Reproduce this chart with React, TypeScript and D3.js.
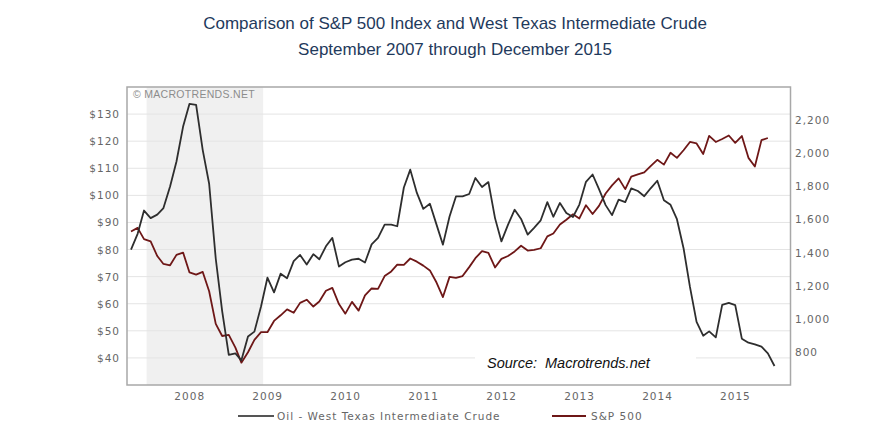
import React from 'react';
import * as d3 from 'd3';

const W = 872;
const H = 438;

const TITLE_LINES = [
  'Comparison of S&P 500 Index and West Texas Intermediate Crude',
  'September 2007 through December 2015',
];
const WATERMARK = '\u00A9 MACROTRENDS.NET';
const SOURCE = 'Source:  Macrotrends.net';
const OIL_LABEL = 'Oil - West Texas Intermediate Crude';
const SP_LABEL = 'S&P 500';

// Monthly observations, first one = September 2007
const START_YEAR = 2007;
const START_MONTH = 8; // September (0-based)

// WTI crude, USD per barrel (Sep 2007 .. Dec 2015)
const oilValues = [
  80.0, 85.8, 94.4, 91.6,
  92.9, 95.3, 103.3, 112.5, 125.4, 133.8, 133.4, 116.7, 104.3, 76.6, 57.3, 41.1,
  41.7, 39.1, 47.9, 49.7, 59.0, 69.6, 64.2, 71.1, 69.4, 75.7, 78.0, 74.5,
  78.3, 76.4, 81.2, 84.3, 73.7, 75.3, 76.3, 76.6, 75.2, 81.9, 84.3, 89.2,
  89.2, 88.6, 102.9, 109.5, 100.9, 95.0, 96.9, 89.2, 81.8, 92.2, 99.6, 99.6,
  100.5, 106.4, 103.1, 104.9, 91.6, 83.0, 89.2, 94.7, 91.3, 85.5, 88.0, 90.8,
  97.5, 92.1, 97.2, 93.5, 92.0, 96.6, 105.0, 107.7, 102.3, 96.4, 92.7, 98.4,
  97.5, 102.6, 101.6, 99.7, 102.7, 105.4, 98.2, 96.5, 91.2, 80.5, 66.2, 53.3,
  48.2, 49.8, 47.6, 59.6, 60.3, 59.5, 47.1, 45.6, 45.0, 44.2, 41.7, 37.0,
];

// S&P 500 monthly close (Sep 2007 .. Nov 2015)
const spValues = [
  1527, 1549, 1481, 1468,
  1379, 1331, 1323, 1386, 1400, 1280, 1267, 1283, 1166, 969, 896, 903,
  826, 735, 798, 873, 919, 919, 987, 1021, 1057, 1036, 1096, 1115,
  1074, 1104, 1169, 1187, 1089, 1031, 1102, 1049, 1141, 1183, 1181, 1258,
  1286, 1327, 1326, 1364, 1345, 1321, 1292, 1219, 1131, 1253, 1247, 1258,
  1312, 1366, 1408, 1398, 1310, 1362, 1379, 1407, 1441, 1412, 1416, 1426,
  1498, 1515, 1569, 1598, 1631, 1606, 1686, 1633, 1682, 1757, 1806, 1848,
  1783, 1859, 1872, 1884, 1924, 1960, 1931, 2003, 1972, 2018, 2068, 2059,
  1995, 2105, 2068, 2086, 2107, 2063, 2104, 1972, 1920, 2079, 2092,
];

const leftTicks = [40, 50, 60, 70, 80, 90, 100, 110, 120, 130];
const rightTicks = [800, 1000, 1200, 1400, 1600, 1800, 2000, 2200];
const yearLabels = [2008, 2009, 2010, 2011, 2012, 2013, 2014, 2015];
const recession = [new Date(2007, 11, 12), new Date(2009, 5, 10)];

const monthEnd = (i: number) => new Date(START_YEAR, START_MONTH + i + 1, 0);

export default function App() {
  const plot = { left: 127, right: 790.5, top: 87, bottom: 385 };

  const x = d3
    .scaleTime()
    .domain([monthEnd(0), monthEnd(oilValues.length - 1)])
    .range([131, 774.5]);
  const yL = d3.scaleLinear().domain([30, 140]).range([plot.bottom, plot.top]);
  const yR = d3.scaleLinear().domain([600, 2400]).range([plot.bottom, plot.top]);

  const oilLine = d3
    .line<number>()
    .x((_, i) => x(monthEnd(i)))
    .y((d) => yL(d));
  const spLine = d3
    .line<number>()
    .x((_, i) => x(monthEnd(i)))
    .y((d) => yR(d));

  const fmtR = d3.format(',');
  const axisFont = {
    fontFamily: 'DejaVu Sans, Verdana, sans-serif',
    fontSize: 10.5,
    letterSpacing: 1,
    fill: '#666',
  } as const;

  const oilColor = '#2e2e2e';
  const spColor = '#6e1717';

  return (
    <div style={{ position: 'absolute', left: 0, top: 0 }}>
      <svg width={W} height={H} viewBox={`0 0 ${W} ${H}`} style={{ display: 'block', background: '#fff' }}>
        <rect x={0} y={0} width={W} height={H} fill="#fff" />

        {TITLE_LINES.map((t, i) => (
          <text
            key={i}
            x={455}
            y={29 + i * 25.5}
            textAnchor="middle"
            fontFamily="Liberation Sans, Arial, sans-serif"
            fontSize={17}
            fill="#1f3a5c"
          >
            {t}
          </text>
        ))}

        {/* recession shading */}
        <rect
          x={x(recession[0])}
          y={plot.top}
          width={x(recession[1]) - x(recession[0])}
          height={plot.bottom - plot.top}
          fill="#f0f0f0"
        />

        {/* grid */}
        {leftTicks.map((t) => (
          <line
            key={t}
            x1={plot.left}
            x2={plot.right}
            y1={yL(t)}
            y2={yL(t)}
            stroke="#e4e4e4"
            strokeWidth={1}
          />
        ))}

        {/* source box */}
        <rect x={475} y={346} width={221} height={32} fill="#fff" />
        <text
          x={487}
          y={368}
          fontFamily="Liberation Sans, Arial, sans-serif"
          fontStyle="italic"
          fontSize={14.5}
          fill="#111"
          style={{ whiteSpace: 'pre' }}
        >
          {SOURCE}
        </text>

        {/* series */}
        <path d={spLine(spValues) || ''} fill="none" stroke={spColor} strokeWidth={1.8} strokeLinejoin="round" />
        <path d={oilLine(oilValues) || ''} fill="none" stroke={oilColor} strokeWidth={1.8} strokeLinejoin="round" />

        {/* frame */}
        <rect
          x={plot.left}
          y={plot.top}
          width={plot.right - plot.left}
          height={plot.bottom - plot.top}
          fill="none"
          stroke="#a8a8a8"
          strokeWidth={1.5}
        />

        <text
          x={133}
          y={94}
          dominantBaseline="central"
          fontFamily="Liberation Sans, Arial, sans-serif"
          fontSize={10.5}
          letterSpacing={0.3}
          fill="#8c8c8c"
        >
          {WATERMARK}
        </text>

        {/* left axis labels */}
        {leftTicks.map((t) => (
          <text key={t} x={120} y={yL(t)} textAnchor="end" dominantBaseline="central" {...axisFont}>
            {`$${t}`}
          </text>
        ))}

        {/* right axis labels */}
        {rightTicks.map((t) => (
          <text key={t} x={795} y={yR(t)} textAnchor="start" dominantBaseline="central" {...axisFont}>
            {fmtR(t)}
          </text>
        ))}

        {/* x labels */}
        {yearLabels.map((yr) => (
          <text key={yr} x={x(new Date(yr, 6, 1))} y={396} textAnchor="middle" dominantBaseline="central" {...axisFont}>
            {yr}
          </text>
        ))}

        {/* legend */}
        <line x1={238} x2={274} y1={416} y2={416} stroke="#555" strokeWidth={2} />
        <text x={277} y={416} dominantBaseline="central" {...axisFont}>
          {OIL_LABEL}
        </text>
        <line x1={552} x2={586} y1={416} y2={416} stroke={spColor} strokeWidth={2} />
        <text x={591} y={416} dominantBaseline="central" {...axisFont}>
          {SP_LABEL}
        </text>
      </svg>
    </div>
  );
}
